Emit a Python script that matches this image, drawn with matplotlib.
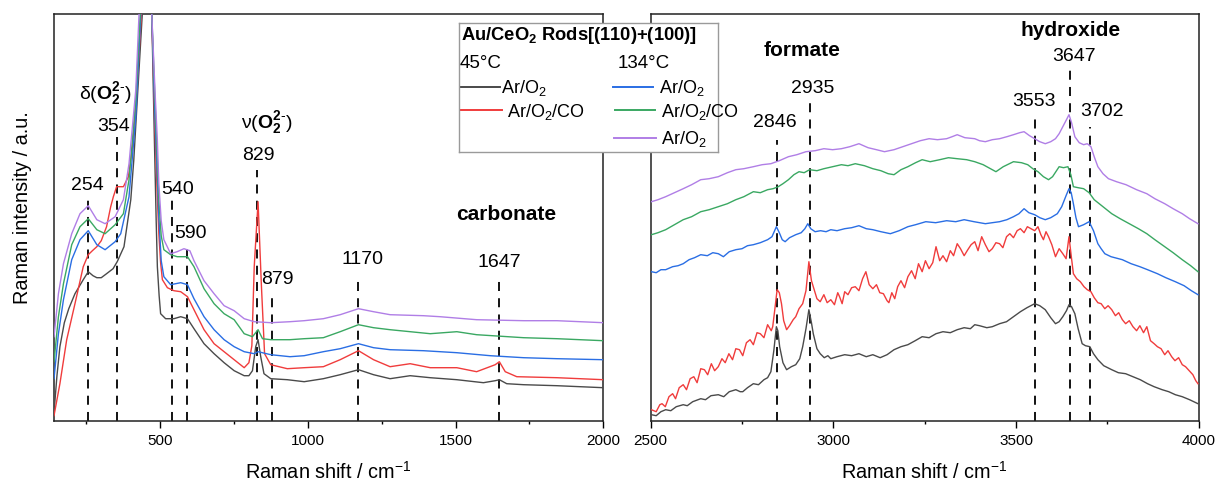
import matplotlib
matplotlib.use('Agg')
import matplotlib.pyplot as plt
from matplotlib.ticker import MultipleLocator

plt.rcParams['font.family'] = ['Liberation Sans', 'DejaVu Sans']
plt.rcParams['mathtext.fontset'] = 'custom'
plt.rcParams['mathtext.rm'] = 'Liberation Sans'
plt.rcParams['mathtext.it'] = 'Liberation Sans:italic'
plt.rcParams['mathtext.bf'] = 'Liberation Sans:bold'

# ---------------- data (intensity in arbitrary units) -------------
# Low-wavenumber panel
black_lo_x = [140, 150, 160, 175, 190, 211, 239, 256, 272, 285, 300, 318, 340, 354, 377, 400, 410, 422, 439, 455,
              471, 480, 486, 490, 496, 501, 518, 546, 569, 592, 614, 648, 682, 716, 750, 784, 800, 812, 823, 831,
              840, 851, 874, 930, 987, 1052, 1109, 1171, 1222, 1278, 1346, 1414, 1504, 1594, 1634, 1648, 1673,
              1730, 1843, 2000]
black_lo_y = [8, 45, 74, 98, 112, 127, 141, 149, 145, 143, 143, 147, 152, 159, 174, 221, 260, 321, 407, 3000,
              407, 280, 200, 154, 125, 107, 102, 102, 104, 102, 92, 77, 67, 58, 50, 45, 45, 50, 74, 81,
              64, 47, 42, 41, 39, 42, 46, 51, 46, 42, 45, 43, 41, 38, 40, 41, 37,
              36, 35, 33]

red_lo_x = [140, 160, 183, 211, 239, 256, 270, 285, 300, 318, 332, 341, 352, 375, 392, 406, 422, 436, 455,
            471, 481, 489, 495, 501, 507, 524, 546, 569, 592, 614, 648, 682, 716, 750, 784, 800, 810, 818, 831,
            842, 853, 874, 930, 987, 1052, 1109, 1171, 1222, 1278, 1346, 1414, 1504, 1571, 1634, 1648, 1668,
            1707, 1843, 2000]
red_lo_y = [5, 37, 81, 117, 154, 166, 170, 174, 180, 194, 214, 224, 234, 234, 244, 274, 337, 407, 3000,
            407, 300, 230, 187, 158, 141, 133, 130, 129, 124, 111, 91, 77, 69, 61, 53, 58, 75, 154, 219,
            137, 67, 56, 52, 53, 54, 61, 70, 61, 54, 57, 53, 53, 49, 56, 59, 49,
            44, 43, 41]

blue_lo_x = [140, 155, 172, 200, 228, 256, 285, 313, 347, 366, 394, 417, 434, 455, 471, 481, 489, 495, 503, 512,
             535, 569, 592, 614, 648, 682, 716, 750, 784, 818, 831, 874, 939, 987, 1052, 1109, 1171, 1222, 1278,
             1391, 1504, 1617, 1730, 1843, 2000]
blue_lo_y = [42, 87, 121, 161, 181, 190, 176, 171, 179, 187, 224, 304, 407, 3000, 407, 310, 250, 204, 160, 144,
             136, 138, 136, 122, 104, 91, 81, 74, 69, 67, 69, 66, 64, 65, 69, 72, 77, 73, 71,
             70, 68, 65, 63, 62, 61]

green_lo_x = [140, 155, 172, 200, 228, 256, 285, 313, 347, 375, 394, 417, 432, 455, 471, 482, 490, 495, 503, 512,
              535, 557, 592, 614, 648, 682, 716, 750, 784, 812, 831, 846, 874, 939, 987, 1052, 1109, 1171, 1222,
              1278, 1414, 1504, 1571, 1730, 1843, 2000]
green_lo_y = [59, 104, 137, 176, 194, 202, 191, 187, 196, 207, 241, 321, 407, 3000, 407, 320, 260, 221, 185, 171,
              166, 164, 164, 154, 132, 117, 107, 101, 87, 84, 91, 82, 81, 81, 82, 83, 89, 96, 93,
              91, 87, 89, 86, 83, 82, 80]

purple_lo_x = [140, 155, 172, 200, 228, 256, 285, 313, 347, 375, 394, 417, 428, 455, 471, 482, 490, 495, 503, 512,
               535, 557, 580, 600, 614, 648, 682, 716, 750, 784, 818, 874, 939, 987, 1052, 1109, 1171, 1222, 1278,
               1391, 1447, 1571, 1730, 1843, 2000]
purple_lo_y = [84, 127, 157, 187, 207, 215, 201, 197, 204, 221, 257, 331, 407, 3000, 407, 330, 280, 237, 200, 181,
               167, 169, 172, 170, 160, 140, 127, 115, 110, 102, 99, 98, 99, 100, 102, 106, 112, 109, 106,
               105, 104, 101, 100, 100, 98]

# High-wavenumber panel
black_hi_x = [2502, 2515, 2528, 2541, 2555, 2570, 2589, 2600, 2615, 2637, 2650, 2665, 2685, 2700, 2715, 2733, 2745,
              2752, 2765, 2781, 2795, 2810, 2820, 2829, 2837, 2844, 2848, 2853, 2862, 2872, 2885, 2897, 2908, 2916,
              2925, 2933, 2940, 2945, 2955, 2964, 2975, 2985, 2993, 3010, 3031, 3050, 3070, 3090, 3108, 3128,
              3147, 3166, 3185, 3204, 3224, 3243, 3262, 3281, 3300, 3320, 3339, 3358, 3375, 3387, 3400, 3420,
              3435, 3455, 3474, 3493, 3512, 3530, 3551, 3565, 3580, 3595, 3608, 3618, 3628, 3638, 3645, 3652,
              3661, 3670, 3681, 3690, 3702, 3712, 3724, 3740, 3762, 3780, 3800, 3820, 3840, 3860, 3878, 3900,
              3918, 3936, 3955, 3975, 3998]
black_hi_y = [6, 5, 9, 11, 10, 14, 16, 15, 19, 22, 21, 25, 26, 24, 29, 31, 29,
              29, 33, 37, 36, 41, 43, 49, 70, 94, 90, 74, 58, 51, 54, 56, 62, 74,
              92, 111, 98, 87, 72, 67, 63, 65, 62, 64, 66, 65, 67, 64, 66, 63,
              66, 71, 74, 76, 80, 84, 83, 87, 89, 88, 91, 93, 92, 96, 95, 93,
              94, 97, 99, 104, 109, 113, 117, 115, 111, 103, 97, 99, 104, 110, 116, 114,
              107, 92, 77, 75, 74, 67, 61, 55, 51, 48, 47, 44, 41, 37, 34, 31,
              29, 26, 24, 21, 17]

red_hi_x = [2502, 2515, 2525, 2531, 2540, 2550, 2560, 2568, 2578, 2589, 2598, 2608, 2618, 2627, 2637, 2647, 2656,
            2666, 2675, 2685, 2695, 2704, 2714, 2724, 2733, 2743, 2752, 2762, 2772, 2781, 2791, 2800, 2810, 2820,
            2830, 2834, 2840, 2846, 2852, 2858, 2864, 2872, 2880, 2890, 2897, 2906, 2916, 2925, 2933, 2940, 2945,
            2955, 2964, 2974, 2983, 2993, 3003, 3012, 3017, 3024, 3031, 3040, 3050, 3060, 3070, 3080, 3089,
            3098, 3108, 3118, 3127, 3137, 3147, 3152, 3160, 3168, 3176, 3185, 3195, 3204, 3214, 3224, 3233,
            3243, 3252, 3262, 3272, 3281, 3291, 3300, 3310, 3320, 3329, 3339, 3348, 3358, 3368, 3377, 3387,
            3396, 3406, 3416, 3426, 3435, 3445, 3455, 3464, 3474, 3483, 3493, 3503, 3512, 3522, 3531, 3541,
            3551, 3560, 3568, 3575, 3582, 3589, 3598, 3608, 3618, 3628, 3637, 3645, 3651, 3657, 3666, 3676,
            3686, 3695, 3705, 3714, 3724, 3733, 3743, 3752, 3762, 3772, 3781, 3791, 3800, 3810, 3820, 3830,
            3839, 3849, 3858, 3868, 3878, 3887, 3897, 3907, 3916, 3926, 3935, 3945, 3955, 3964, 3974, 3984,
            3992, 3998]
red_hi_y = [11, 9, 16, 17, 14, 24, 27, 22, 33, 36, 31, 42, 44, 38, 52, 51, 46,
            57, 50, 54, 62, 58, 67, 61, 72, 71, 65, 78, 81, 76, 88, 87, 83, 96,
            90, 94, 112, 131, 128, 117, 100, 91, 95, 101, 104, 112, 117, 130, 159, 140, 134,
            122, 119, 126, 118, 121, 116, 128, 124, 117, 129, 126, 133, 134, 130, 142, 149,
            136, 132, 136, 128, 127, 120, 118, 128, 122, 134, 140, 133, 144, 150, 142, 157,
            149, 160, 152, 158, 174, 160, 165, 159, 170, 165, 177, 172, 165, 171, 176, 179,
            170, 184, 176, 169, 172, 178, 177, 173, 184, 187, 183, 190, 192, 188, 194, 192,
            190, 194, 186, 181, 189, 184, 176, 164, 172, 167, 162, 184, 165, 147, 142, 139,
            134, 131, 129, 123, 118, 117, 112, 115, 111, 105, 108, 101, 97, 100, 94, 90,
            95, 88, 94, 80, 77, 74, 72, 66, 70, 64, 60, 63, 56, 54, 50, 46,
            40, 37]

blue_hi_x = [2502, 2515, 2528, 2541, 2560, 2575, 2589, 2605, 2620, 2637, 2655, 2670, 2685, 2699, 2715, 2733, 2750,
             2765, 2781, 2800, 2820, 2832, 2844, 2852, 2860, 2868, 2880, 2897, 2912, 2922, 2930, 2938, 2950,
             2965, 2980, 2993, 3010, 3031, 3050, 3070, 3090, 3108, 3130, 3156, 3180, 3204, 3225, 3253, 3280,
             3310, 3335, 3358, 3385, 3416, 3435, 3455, 3475, 3493, 3508, 3522, 3535, 3551, 3565, 3580, 3595,
             3613, 3625, 3638, 3645, 3651, 3657, 3664, 3671, 3685, 3700, 3712, 3724, 3733, 3743, 3760, 3791,
             3815, 3839, 3860, 3887, 3910, 3936, 3960, 3980, 3998]
blue_hi_y = [149, 148, 151, 151, 154, 155, 157, 161, 163, 166, 165, 168, 167, 164, 169, 171, 172,
             175, 176, 178, 181, 184, 194, 188, 181, 179, 183, 186, 188, 192, 197, 192, 189,
             190, 189, 191, 190, 192, 193, 195, 192, 191, 189, 187, 190, 194, 196, 199, 198,
             200, 199, 201, 199, 197, 198, 199, 201, 204, 207, 212, 208, 206, 203, 201, 203,
             207, 214, 226, 232, 228, 217, 203, 194, 196, 199, 190, 177, 172, 167, 164, 161,
             157, 154, 151, 147, 143, 139, 135, 130, 126]

green_hi_x = [2502, 2520, 2541, 2565, 2589, 2612, 2637, 2660, 2685, 2710, 2733, 2755, 2781, 2800, 2820, 2835, 2849,
              2862, 2877, 2892, 2906, 2920, 2935, 2955, 2974, 2998, 3022, 3040, 3060, 3085, 3108, 3130, 3150,
              3166, 3185, 3204, 3225, 3243, 3265, 3291, 3315, 3339, 3365, 3387, 3410, 3430, 3445, 3465, 3493,
              3515, 3532, 3546, 3560, 3575, 3589, 3600, 3618, 3630, 3642, 3650, 3657, 3670, 3685, 3700, 3714,
              3738, 3762, 3785, 3810, 3835, 3858, 3880, 3907, 3930, 3955, 3978, 3998]
green_hi_y = [186, 188, 191, 196, 201, 204, 209, 211, 214, 217, 221, 224, 229, 228, 231, 232, 234,
              237, 241, 246, 249, 248, 251, 250, 252, 254, 256, 255, 257, 255, 252, 250, 247,
              246, 251, 254, 258, 261, 259, 261, 263, 262, 261, 259, 256, 252, 249, 254, 259,
              258, 256, 252, 249, 244, 241, 244, 254, 253, 254, 246, 234, 233, 232, 228, 221,
              214, 207, 202, 197, 192, 187, 181, 174, 168, 161, 155, 149]

purple_hi_x = [2502, 2520, 2541, 2565, 2589, 2612, 2637, 2660, 2685, 2710, 2733, 2755, 2781, 2805, 2829, 2852, 2877,
               2900, 2925, 2950, 2974, 2998, 3022, 3045, 3070, 3095, 3118, 3140, 3166, 3190, 3214, 3238, 3262,
               3285, 3310, 3325, 3339, 3360, 3387, 3400, 3416, 3435, 3455, 3475, 3493, 3510, 3522, 3537, 3551,
               3565, 3580, 3595, 3608, 3618, 3628, 3638, 3645, 3652, 3661, 3673, 3685, 3695, 3705, 3714, 3724,
               3738, 3753, 3775, 3801, 3830, 3858, 3880, 3907, 3930, 3955, 3975, 3998]
purple_hi_y = [219, 221, 224, 228, 232, 236, 241, 242, 244, 248, 251, 252, 254, 256, 257, 260, 264,
               266, 269, 270, 272, 271, 272, 274, 277, 273, 271, 269, 271, 274, 277, 280, 282,
               281, 282, 284, 286, 283, 282, 280, 279, 281, 282, 284, 286, 288, 289, 285, 282,
               279, 277, 279, 282, 287, 294, 301, 306, 298, 284, 278, 276, 277, 274, 264, 254,
               247, 242, 239, 236, 231, 227, 222, 217, 212, 207, 202, 197]

# peak markers
lo_peaks = [254, 354, 540, 590, 829, 879, 1170, 1647]
lo_peak_labels = ['254', '354', '540', '590', '829', '879', '1170', '1647']
hi_peaks = [2846, 2935, 3553, 3647, 3702]
hi_peak_labels = ['2846', '2935', '3553', '3647', '3702']

series_names = ['Ar/O$_2$', 'Ar/O$_2$/CO', 'Ar/O$_2$', 'Ar/O$_2$/CO', 'Ar/O$_2$']
temps = ['45°C', '134°C']
legend_title = r'Au/CeO$_\mathbf{2}$ Rods[(110)+(100)]'

colors = ['#4a4a4a', '#f03c3c', '#2a6ee4', '#3aa862', '#b07ee6']

# ---------------- figure -------------
W, H = 1218, 484
fig = plt.figure(figsize=(W / 100, H / 100), dpi=100)
bot = 420.7
top = 14.0
axL = fig.add_axes([54 / W, 1 - bot / H, (603.3 - 54) / W, (bot - top) / H])
axR = fig.add_axes([650.7 / W, 1 - bot / H, (1198.7 - 650.7) / W, (bot - top) / H])

lo_sets = [(black_lo_x, black_lo_y), (red_lo_x, red_lo_y), (blue_lo_x, blue_lo_y),
           (green_lo_x, green_lo_y), (purple_lo_x, purple_lo_y)]
hi_sets = [(black_hi_x, black_hi_y), (red_hi_x, red_hi_y), (blue_hi_x, blue_hi_y),
           (green_hi_x, green_hi_y), (purple_hi_x, purple_hi_y)]

for (x, y), c in zip(lo_sets, colors):
    axL.plot(x, y, color=c, lw=1.0, zorder=3)
for (x, y), c in zip(hi_sets, colors):
    axR.plot(x, y, color=c, lw=1.0, zorder=3)

ymax = bot - top
for ax in (axL, axR):
    ax.set_ylim(0, ymax)
    ax.set_yticks([])
    for s in ax.spines.values():
        s.set_linewidth(1.1)
        s.set_color('#222222')
    ax.tick_params(axis='x', which='major', direction='out', length=4.8, width=1.0, pad=5, labelsize=11)
    ax.tick_params(axis='x', which='minor', direction='out', length=2.5, width=1.0)
    ax.xaxis.set_major_locator(MultipleLocator(500))
    ax.xaxis.set_minor_locator(MultipleLocator(250))
    ax.set_xlabel('Raman shift / cm$^{-1}$', fontsize=14.3)
    ax.xaxis.set_label_coords(0.5, -(472 - bot) / ymax)
    ax.xaxis.label.set_va('center')

axL.set_xlim(140, 2000)
axR.set_xlim(2500, 4000)
axL.set_ylabel('Raman intensity / a.u.', fontsize=14.3)
axL.yaxis.set_label_coords(-(54 - 22.5) / 549.3, (bot - 208) / ymax)
axL.yaxis.label.set_va('center')

dash = dict(color='black', lw=1.3, linestyles=(0, (5, 4)), zorder=2)

# dashed peak markers (tops in axis units) and labels
lo_tops = [224, 284, 224, 175.7, 250.7, 128, 145.7, 144.7]
lo_lab_pos = [(252, 235), (343, 294), (560, 231.4), (603, 187.4), (831, 265.7), (896, 140.7), (1186, 161.4),
              (1648, 158)]
for p, t in zip(lo_peaks, lo_tops):
    axL.vlines(p, 0, t, **dash)
for lab, (lx, ly) in zip(lo_peak_labels, lo_lab_pos):
    axL.text(lx, ly, lab, ha='center', va='center', fontsize=14, zorder=5)

axL.text(315, 327.4, r'δ($\mathbf{O_2^{2\text{-}}}$)', ha='center', va='center', fontsize=14)
axL.text(862, 297.7, r'ν($\mathbf{O_2^{2\text{-}}}$)', ha='center', va='center', fontsize=14)
axL.text(1672, 205.7, 'carbonate', ha='center', va='center', fontsize=15, fontweight='bold')

hi_tops = [280.7, 317.4, 304, 352.4, 294]
hi_lab_pos = [(2839, 298), (2943, 332.4), (3549, 319), (3660, 364), (3736, 309)]
for p, t in zip(hi_peaks, hi_tops):
    axR.vlines(p, 0, t, **dash)
for lab, (lx, ly) in zip(hi_peak_labels, hi_lab_pos):
    axR.text(lx, ly, lab, ha='center', va='center', fontsize=14, zorder=5)
axR.text(2914, 370.7, 'formate', ha='center', va='center', fontsize=15, fontweight='bold')
axR.text(3650, 390.7, 'hydroxide', ha='center', va='center', fontsize=15, fontweight='bold')

# ---------------- custom legend box -------------
lx0, lx1, ly0, ly1 = 459, 718, 23, 151.5
lax = fig.add_axes([lx0 / W, 1 - ly1 / H, (lx1 - lx0) / W, (ly1 - ly0) / H])
lax.set_xlim(lx0, lx1)
lax.set_ylim(ly1, ly0)
lax.set_xticks([])
lax.set_yticks([])
lax.set_facecolor('white')
for s in lax.spines.values():
    s.set_color('#9a9a9a')
    s.set_linewidth(1.0)
lax.text(461, 35, legend_title, ha='left', va='center', fontsize=13.2, fontweight='bold')
lax.text(460, 63.5, temps[0], ha='left', va='center', fontsize=13.5)
lax.text(618, 63.5, temps[1], ha='left', va='center', fontsize=13.5)
leg_rows = [(460, 500, 86.7, 501), (460, 501.7, 110, 507), (612.7, 653.3, 86.7, 659), (614.7, 655, 110, 661),
            (614, 656, 137.7, 661)]
for (a, b, yy, tx), c, name in zip(leg_rows, colors, series_names):
    lax.plot([a, b], [yy, yy], color=c, lw=1.4)
    lax.text(tx, yy + 1.5, name, ha='left', va='center', fontsize=13)

fig.savefig('out.png', dpi=100)
